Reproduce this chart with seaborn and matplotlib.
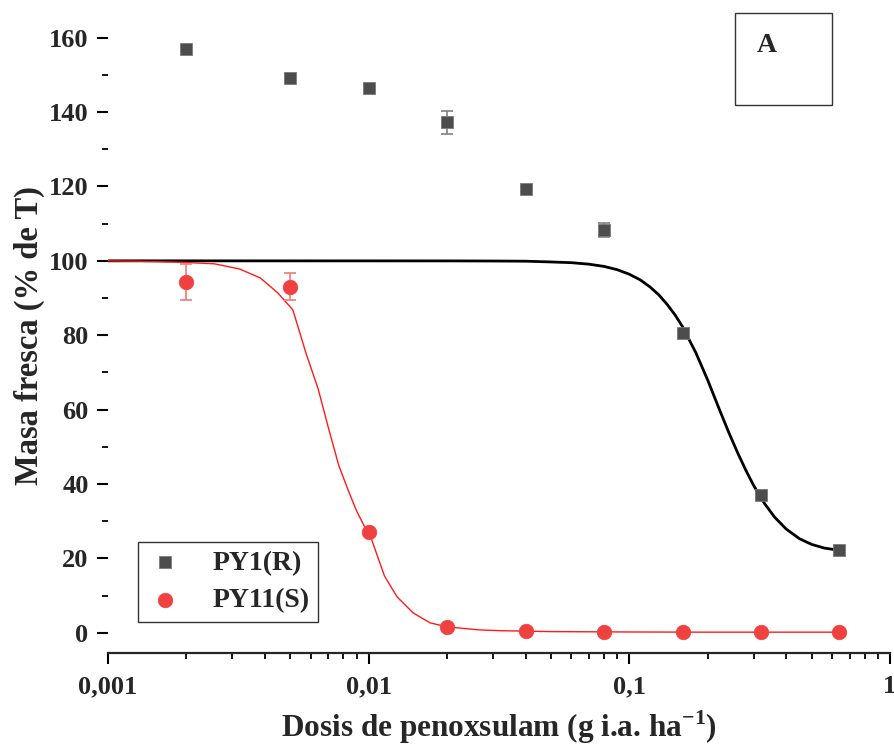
# Dose-response of fresh mass to penoxsulam (PY1 resistant vs PY11 susceptible)
import numpy as np
import pandas as pd
import matplotlib
matplotlib.use("Agg")
import matplotlib.pyplot as plt
from matplotlib.patches import Rectangle
from matplotlib.ticker import FixedLocator, LogLocator, NullFormatter
import seaborn as sns

# Doses (g i.a. ha-1):
doses = [0.002, 0.005, 0.01, 0.02, 0.04, 0.08, 0.16, 0.32, 0.64]

# Mean fresh mass (% of control) and error bars:
py1_mean = [157.0, 149.2, 146.5, 137.3, 119.4, 108.3, 80.6, 37.1, 22.3]
py1_err = [0.5, 1.0, 0.5, 3.1, 0.5, 2.0, 0.5, 0.5, 0.5]
py11_mean = [94.4, 93.0, 27.0, 1.6, 0.4, 0.3, 0.3, 0.2, 0.2]
py11_err = [4.8, 3.6, 0.4, 0.3, 0.2, 0.2, 0.2, 0.2, 0.2]

# Fitted curves, points:
py1_fit_x = [0.001, 0.02, 0.03, 0.04, 0.05, 0.06, 0.07, 0.08, 0.09, 0.10,
             0.11, 0.12, 0.13, 0.14, 0.15, 0.16, 0.18, 0.20, 0.22, 0.24,
             0.26, 0.28, 0.30, 0.33, 0.36, 0.40, 0.45, 0.50, 0.56, 0.64]
py1_fit_y = [100.0, 99.98, 99.95, 99.9, 99.7, 99.5, 99.1, 98.5, 97.6, 96.4,
             94.9, 93.0, 90.8, 88.2, 85.4, 82.3, 75.3, 67.9, 60.6, 54.1,
             48.5, 43.7, 39.6, 34.8, 31.2, 27.9, 25.3, 23.8, 22.8, 22.2]

py11_fit_x = [0.001, 0.00128, 0.00192, 0.00256, 0.0032, 0.00384, 0.00448,
              0.00512, 0.00576, 0.0064, 0.00704, 0.00768, 0.00832, 0.00896,
              0.0096, 0.01024, 0.0115, 0.01285, 0.0148, 0.0172, 0.0201,
              0.0267, 0.032, 0.05, 0.1, 0.2, 0.4, 0.64]
py11_fit_y = [100.0, 99.9, 99.6, 99.2, 97.8, 95.4, 91.4,
              86.8, 75.0, 65.6, 54.6, 45.0, 38.6, 33.0,
              28.8, 25.3, 15.3, 9.7, 5.4, 2.7, 1.6,
              0.8, 0.6, 0.35, 0.25, 0.2, 0.2, 0.2]

x_tick_values = [0.001, 0.01, 0.1, 1]
x_tick_labels = ["0,001", "0,01", "0,1", "1"]
y_tick_values = [0, 20, 40, 60, 80, 100, 120, 140, 160]

df1 = pd.DataFrame({"dose": doses, "mass": py1_mean})
df11 = pd.DataFrame({"dose": doses, "mass": py11_mean})

sns.set_style("ticks")
plt.rcParams.update({
    "font.family": ["Liberation Serif", "DejaVu Serif"],
    "font.weight": "bold",
    "axes.labelweight": "bold",
})

fig = plt.figure(figsize=(8.94, 7.53), dpi=100)
ax = fig.add_axes([0.1208, 0.1328, 0.8747, 0.842])

square_col = "#4d4d4d"
red_col = "#f04141"

# Fitted curves
sns.lineplot(x=py1_fit_x, y=py1_fit_y, ax=ax, color="black", lw=2.0,
             estimator=None, sort=False, legend=False, zorder=2)
sns.lineplot(x=py11_fit_x, y=py11_fit_y, ax=ax, color="#ff1a1a", lw=1.0,
             estimator=None, sort=False, legend=False, zorder=2)

# Error bars
ax.errorbar(doses, py1_mean, yerr=py1_err, fmt="none", ecolor="#808080",
            elinewidth=1.2, capsize=4.5, capthick=1.2, zorder=3)
ax.errorbar(doses, py11_mean, yerr=py11_err, fmt="none", ecolor="#f07a7a",
            elinewidth=1.2, capsize=4.5, capthick=1.2, zorder=3)

# Points
sns.scatterplot(data=df1, x="dose", y="mass", ax=ax, marker="s", s=80,
                color=square_col, edgecolor="#7a7a7a", linewidth=0.6,
                label="PY1(R)", zorder=4)
sns.scatterplot(data=df11, x="dose", y="mass", ax=ax, marker="o", s=110,
                color=red_col, edgecolor=red_col, linewidth=0.5,
                label="PY11(S)", zorder=4)

ax.set_xscale("log")
ax.set_xlim(0.001, 1)
ax.set_ylim(-5.4, 165)

ax.xaxis.set_major_locator(FixedLocator(x_tick_values))
ax.set_xticklabels(x_tick_labels)
ax.xaxis.set_minor_locator(LogLocator(base=10, subs=np.arange(2, 10)))
ax.xaxis.set_minor_formatter(NullFormatter())
ax.set_yticks(y_tick_values)
ax.yaxis.set_minor_locator(FixedLocator(np.arange(10, 170, 20)))

for s in ["top", "right", "left"]:
    ax.spines[s].set_visible(False)
ax.spines["bottom"].set_linewidth(1.6)

ax.tick_params(axis="both", which="major", length=8, width=1.5,
               labelsize=19, direction="out", color="black")
ax.tick_params(axis="both", which="minor", length=4, width=1.3,
               direction="out", color="black")
ax.tick_params(axis="y", which="major", pad=6)
ax.tick_params(axis="x", which="major", pad=8)
for lbl in ax.get_xticklabels() + ax.get_yticklabels():
    lbl.set_fontweight("bold")

ax.set_xlabel("Dosis de penoxsulam (g i.a. ha$^{\\mathregular{-1}}$)",
              fontsize=22.5, fontweight="bold")
ax.set_ylabel("Masa fresca (% de T)", fontsize=23.5, fontweight="bold")
ax.xaxis.set_label_coords(0.5, -0.087)
ax.yaxis.set_label_coords(-0.08, 0.5)

leg = ax.legend(loc="lower left", bbox_to_anchor=(0.038, 0.049),
                borderaxespad=0, frameon=True, fancybox=False,
                edgecolor="black", prop={"size": 20, "weight": "bold"},
                handlelength=1.4, handletextpad=1.0, borderpad=0.3,
                labelspacing=0.45)
leg.get_frame().set_linewidth(1.0)

# Panel tag box "A"
fig.patches.append(Rectangle((0.822, 0.8606), 0.1085, 0.122,
                             transform=fig.transFigure, fill=False,
                             edgecolor="#333333", linewidth=1.0))
fig.text(0.858, 0.94, "A", fontsize=20, fontweight="bold",
         ha="center", va="center")

fig.savefig("out.png", dpi=100)
